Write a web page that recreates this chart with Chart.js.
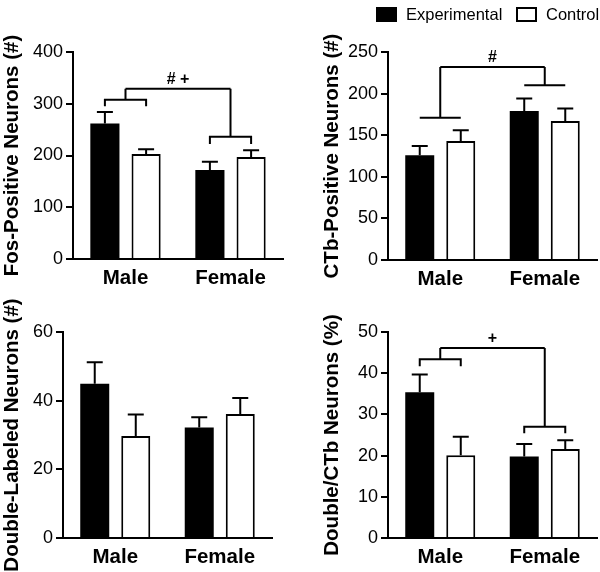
<!DOCTYPE html>
<html>
<head>
<meta charset="utf-8">
<script src="https://cdn.jsdelivr.net/npm/chart.js@4.4.0/dist/chart.umd.min.js"></script>
<style>
  html, body { margin: 0; padding: 0; background: #fff; }
  #wrap { position: relative; width: 600px; height: 572px; }
  canvas { position: absolute; }
</style>
</head>
<body>
<div id="wrap">
  <canvas id="fos" width="300" height="290" style="left:0;top:0"></canvas>
  <canvas id="ctb" width="300" height="290" style="left:300px;top:0"></canvas>
  <canvas id="dbl" width="300" height="282" style="left:0;top:290px"></canvas>
  <canvas id="pct" width="300" height="282" style="left:300px;top:290px"></canvas>
</div>
<script>
const groups = ['Male', 'Female'];
const seriesNames = ['Experimental', 'Control'];

// Fos-positive neurons (#)
const fosExp = [262, 172];
const fosExpSem = [22, 16];
const fosCtl = [203, 197];
const fosCtlSem = [9, 13];
const fosTicks = [0, 100, 200, 300, 400];

// CTb-positive neurons (#)
const ctbExp = [126, 179];
const ctbExpSem = [11, 15];
const ctbCtl = [143, 167];
const ctbCtlSem = [13, 15];
const ctbTicks = [0, 50, 100, 150, 200, 250];

// Double-labeled neurons (#)
const dblExp = [44.9, 32.2];
const dblExpSem = [6.3, 3.0];
const dblCtl = [29.7, 36.1];
const dblCtlSem = [6.3, 4.7];
const dblTicks = [0, 20, 40, 60];

// Double/CTb neurons (%)
const pctExp = [35.4, 19.8];
const pctExpSem = [4.3, 3.0];
const pctCtl = [20.1, 21.6];
const pctCtlSem = [4.5, 2.1];
const pctTicks = [0, 10, 20, 30, 40, 50];

// significance brackets (value levels)
const fosBracketLevel = [307.5, 236];
const fosBracketLeg = [295, 222];
const fosBracketTop = 329;
const ctbBracketLevel = [171, 210];
const ctbBracketTop = 232;
const pctBracketLevel = [43.4, 27.0];
const pctBracketLeg = [41.7, 25.4];
const pctBracketTop = 46.1;

const FONT = "'Liberation Sans', Arial, Helvetica, sans-serif";

// upward-only SEM whiskers
const errorBars = {
  id: 'errorBars',
  afterDatasetsDraw(chart) {
    const ctx = chart.ctx, y = chart.scales.y;
    ctx.save();
    ctx.strokeStyle = '#000';
    ctx.lineWidth = 2;
    chart.data.datasets.forEach((ds, i) => {
      chart.getDatasetMeta(i).data.forEach((bar, j) => {
        const top = y.getPixelForValue(ds.data[j] + ds.sem[j]);
        ctx.beginPath();
        ctx.moveTo(bar.x, bar.y);
        ctx.lineTo(bar.x, top);
        ctx.moveTo(bar.x - 8, top);
        ctx.lineTo(bar.x + 8, top);
        ctx.stroke();
      });
    });
    ctx.restore();
  }
};

const brackets = {
  id: 'brackets',
  afterDatasetsDraw(chart, args, opts) {
    if (!opts.level) return;
    const ctx = chart.ctx, y = chart.scales.y;
    const a = chart.getDatasetMeta(0).data, b = chart.getDatasetMeta(1).data;
    const topPx = y.getPixelForValue(opts.top);
    const stems = [];
    ctx.save();
    ctx.strokeStyle = '#000';
    ctx.lineWidth = 2;
    for (let g = 0; g < 2; g++) {
      const xa = a[g].x, xb = b[g].x;
      const py = y.getPixelForValue(opts.level[g]);
      const mid = (xa + xb) / 2;
      stems.push(mid);
      ctx.beginPath();
      if (opts.leg) {
        const ly = y.getPixelForValue(opts.leg[g]);
        ctx.moveTo(xa, ly);
        ctx.lineTo(xa, py);
        ctx.lineTo(xb, py);
        ctx.lineTo(xb, ly);
      } else {
        ctx.moveTo(xa, py);
        ctx.lineTo(xb, py);
      }
      ctx.moveTo(mid, py);
      ctx.lineTo(mid, topPx);
      ctx.stroke();
    }
    ctx.beginPath();
    ctx.moveTo(stems[0], topPx);
    ctx.lineTo(stems[1], topPx);
    ctx.stroke();
    ctx.fillStyle = '#000';
    ctx.font = 'bold 16px ' + FONT;
    ctx.textAlign = 'center';
    ctx.textBaseline = 'alphabetic';
    ctx.fillText(opts.text, (stems[0] + stems[1]) / 2, topPx - 5);
    ctx.restore();
  }
};

const legendBoxes = {
  id: 'legendBoxes',
  afterDraw(chart, args, opts) {
    if (!opts.x) return;
    const ctx = chart.ctx;
    ctx.save();
    ctx.font = '16.5px ' + FONT;
    ctx.textBaseline = 'middle';
    ctx.textAlign = 'left';
    chart.data.datasets.forEach((ds, i) => {
      const bx = opts.x[i];
      ctx.fillStyle = ds.backgroundColor;
      ctx.fillRect(bx, 7, 21, 15);
      ctx.strokeStyle = '#000';
      ctx.lineWidth = 2;
      ctx.strokeRect(bx + 1, 8, 19, 13);
      ctx.fillStyle = '#000';
      ctx.fillText(ds.label, bx + 30, 15);
    });
    ctx.restore();
  }
};

function makePanel(id, title, exp, expSem, ctl, ctlSem, ticks, box, extra) {
  const barOpts = { categoryPercentage: 0.785, barPercentage: 0.707 };
  return new Chart(document.getElementById(id), {
    type: 'bar',
    data: {
      labels: groups,
      datasets: [
        Object.assign({ label: seriesNames[0], data: exp, sem: expSem, backgroundColor: '#000', borderColor: '#000', borderWidth: 0 }, barOpts),
        Object.assign({ label: seriesNames[1], data: ctl, sem: ctlSem, backgroundColor: '#fff', borderColor: '#000', borderWidth: 2 }, barOpts)
      ]
    },
    options: {
      responsive: false,
      animation: false,
      devicePixelRatio: 1,
      layout: { padding: { left: 0, right: box.padRight, top: box.top, bottom: 0 } },
      plugins: {
        legend: { display: false },
        tooltip: { enabled: false },
        brackets: extra.brackets || {},
        legendBoxes: extra.legend || {}
      },
      scales: {
        x: {
          grid: { display: false, drawTicks: false },
          border: { display: true, color: '#000', width: 2 },
          ticks: { color: '#000', padding: 7, maxRotation: 0, font: { family: FONT, size: 20.5, weight: 'bold' } },
          afterFit: s => { s.height = box.xHeight; }
        },
        y: {
          min: 0,
          max: ticks[ticks.length - 1],
          afterBuildTicks: s => { s.ticks = ticks.map(v => ({ value: v })); },
          grid: { display: true, drawOnChartArea: false, drawTicks: true, tickLength: 7, color: '#000', lineWidth: 2 },
          border: { display: true, color: '#000', width: 2 },
          ticks: { color: '#000', padding: 3, font: { family: FONT, size: 18 } },
          title: {
            display: true, text: title, color: '#000',
            font: { family: FONT, size: 20.5, weight: 'bold' },
            padding: { top: box.titlePad, bottom: 0 }
          },
          afterFit: s => { s.width = box.axisX; }
        }
      }
    },
    plugins: [errorBars, brackets, legendBoxes]
  });
}

makePanel('fos', 'Fos-Positive Neurons (#)', fosExp, fosExpSem, fosCtl, fosCtlSem, fosTicks,
  { axisX: 73, padRight: 17, top: 52, xHeight: 31, titlePad: 0 },
  { brackets: { level: fosBracketLevel, leg: fosBracketLeg, top: fosBracketTop, text: '# +' } });

makePanel('ctb', 'CTb-Positive Neurons (#)', ctbExp, ctbExpSem, ctbCtl, ctbCtlSem, ctbTicks,
  { axisX: 88, padRight: 3, top: 52, xHeight: 30, titlePad: 20 },
  { brackets: { level: ctbBracketLevel, leg: null, top: ctbBracketTop, text: '#' }, legend: { x: [76, 216] } });

makePanel('dbl', 'Double-Labeled Neurons (#)', dblExp, dblExpSem, dblCtl, dblCtlSem, dblTicks,
  { axisX: 63, padRight: 28, top: 42, xHeight: 34, titlePad: 0 },
  {});

makePanel('pct', 'Double/CTb Neurons (%)', pctExp, pctExpSem, pctCtl, pctCtlSem, pctTicks,
  { axisX: 88, padRight: 3, top: 42, xHeight: 34, titlePad: 20 },
  { brackets: { level: pctBracketLevel, leg: pctBracketLeg, top: pctBracketTop, text: '+' } });
</script>
</body>
</html>
